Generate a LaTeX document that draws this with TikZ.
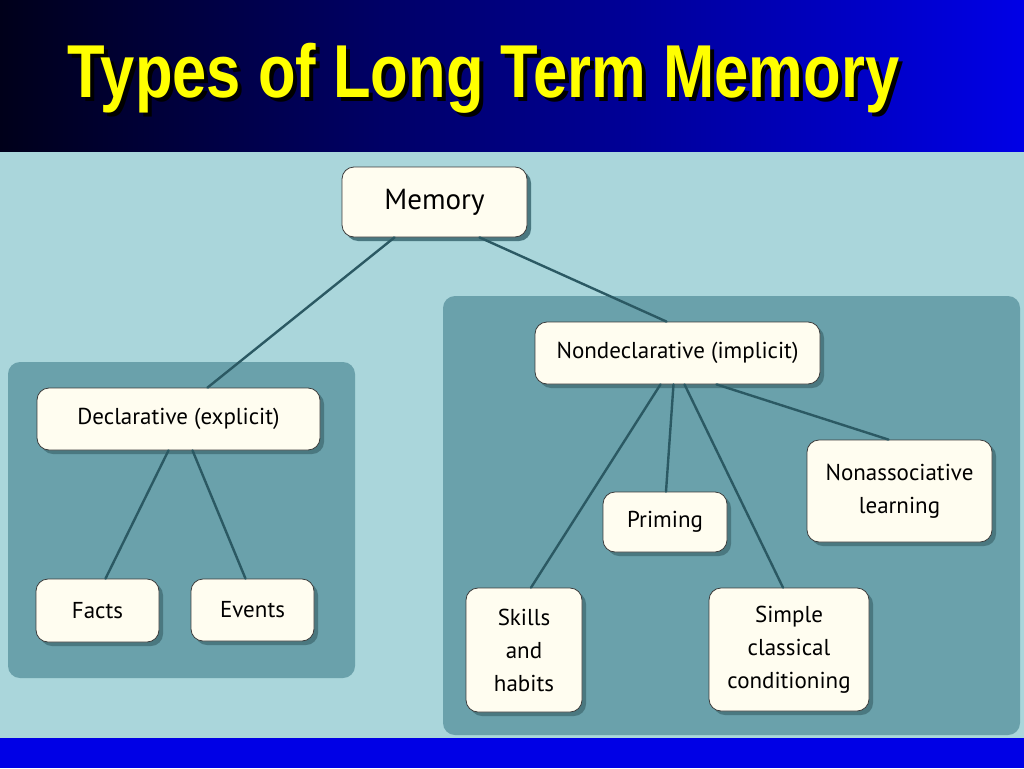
\documentclass[tikz,border=0pt]{standalone}
\usepackage{fontspec}
\setmainfont{PT Sans}
\newfontfamily\titlefont{Liberation Sans}
\usetikzlibrary{shadows}
\definecolor{aadtdo}{rgb}{0.6666666666666666,0.8392156862745098,0.8588235294117647}
\definecolor{ufarae}{rgb}{0.41568627450980394,0.6313725490196078,0.6705882352941176}
\definecolor{ebzour}{rgb}{0.16862745098039217,0.34901960784313724,0.38823529411764707}
\definecolor{fffdfq}{rgb}{1.,0.9921568627450981,0.9411764705882353}
\definecolor{taxiiq}{rgb}{0.2901960784313726,0.47058823529411764,0.5019607843137255}
\definecolor{qqqqeu}{rgb}{0.,0.,0.9019607843137255}
\definecolor{qqqqwa}{rgb}{0.,0.,0.10196078431372549}
\definecolor{ffffqq}{rgb}{1.,1.,0.}
\definecolor{rcrcrc}{rgb}{0.23529411764705882,0.23529411764705882,0.23529411764705882}
\begin{document}
\begin{tikzpicture}[line cap=round,line join=round,x=1.0pt,y=-1.0pt,
	box/.style={draw=rcrcrc,line width=0.8pt,fill=fffdfq,rounded corners=12pt,inner sep=0pt,align=center,
		font=\fontsize{23}{33}\selectfont,
		drop shadow={shadow xshift=4pt,shadow yshift=-4pt,fill=taxiiq,opacity=1}},
	link/.style={draw=ebzour,line width=2.4pt}]
	\useasboundingbox (0,0) rectangle (1024,768);
	\shade[left color=qqqqwa,right color=qqqqeu] (0,0) rectangle (1024,152);
	\fill[aadtdo] (0,152) rectangle (1024,738);
	\fill[ufarae,rounded corners=12pt] (8,362) rectangle (355,678);
	\fill[ufarae,rounded corners=12pt] (443,296) rectangle (1020,735);
	\fill[qqqqeu] (0,738) rectangle (1024,768);
	\node[anchor=base west,text=black,xscale=0.82,font=\titlefont\bfseries\fontsize{75}{80}\selectfont] (titleshadow) at (69,101) {Types of Long Term Memory};
	\node[anchor=base west,text=ffffqq,xscale=0.82,font=\titlefont\bfseries\fontsize{75}{80}\selectfont] (title) at (65,97) {Types of Long Term Memory};
	\node[box,minimum width=185pt,minimum height=70pt,font=\fontsize{29}{33}\selectfont] (memory) at (434.5,202) {Memory};
	\node[box,minimum width=283pt,minimum height=62pt] (decl) at (178.5,419) {Declarative (explicit)};
	\node[box,minimum width=123pt,minimum height=63pt] (facts) at (97.5,610.5) {Facts};
	\node[box,minimum width=123pt,minimum height=62pt] (events) at (252.5,610) {Events};
	\node[box,minimum width=285pt,minimum height=62pt] (nondecl) at (677.5,353) {Nondeclarative (implicit)};
	\node[box,minimum width=124pt,minimum height=60pt] (priming) at (665,522) {Priming};
	\node[box,minimum width=185pt,minimum height=102pt] (nonassoc) at (899.5,491) {Nonassociative\\learning};
	\node[box,minimum width=116pt,minimum height=124pt] (skills) at (524,650) {Skills\\and\\habits};
	\node[box,minimum width=160pt,minimum height=123pt] (simple) at (789,649.5) {Simple\\classical\\conditioning};
	\draw[link] ([xshift=-40pt]memory.south) -- ([xshift=29pt]decl.north);
	\draw[link] ([xshift=45pt]memory.south) -- ([xshift=-11pt]nondecl.north);
	\draw[link] ([xshift=-10pt]decl.south) -- ([xshift=8pt]facts.north);
	\draw[link] ([xshift=14pt]decl.south) -- ([xshift=-7pt]events.north);
	\draw[link] ([xshift=-17pt]nondecl.south) -- ([xshift=7pt]skills.north);
	\draw[link] ([xshift=-4pt]nondecl.south) -- ([xshift=1pt]priming.north);
	\draw[link] ([xshift=7pt]nondecl.south) -- ([xshift=-6pt]simple.north);
	\draw[link] ([xshift=39pt]nondecl.south) -- ([xshift=-11pt]nonassoc.north);
\end{tikzpicture}
\end{document}
